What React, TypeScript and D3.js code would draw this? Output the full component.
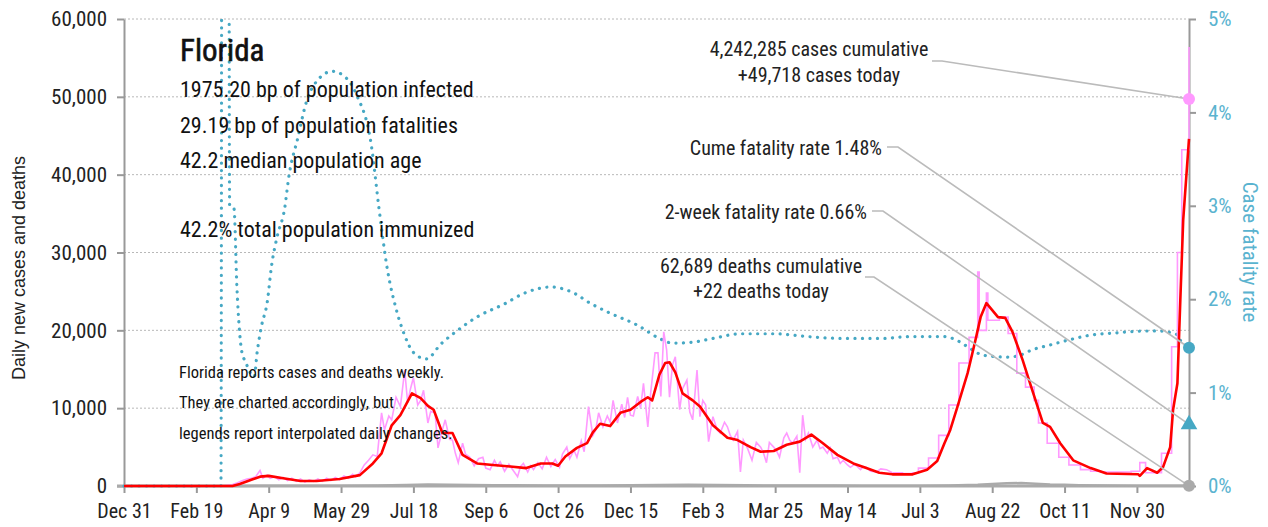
// @ts-nocheck

import React from 'react'
import * as d3 from 'd3'

const FONT =
  "'Liberation Sans Narrow', 'Roboto Condensed', 'DejaVu Sans Condensed', 'Arial Narrow', sans-serif"
const TEAL = '#46a8c4'
const TEAL_TEXT = '#5ab3cf'
const PINK = '#ff99ff'
const RED = '#ff0000'
const GREY = '#aaaaaa'

// days counted from Dec 31 2019
const lastDay = 736
const xTickDays = [0, 50, 100, 150, 200, 250, 300, 350, 400, 450, 500, 550, 600, 650, 700]
const yLeftTicks = [0, 10000, 20000, 30000, 40000, 50000, 60000]
const yRightTicks = [0, 1, 2, 3, 4, 5]

// daily new cases while reported daily
const dailyCases = [
  [0, 0], [60, 0], [66, 10], [70, 50], [75, 200], [78, 400], [82, 700], [85, 900], [88, 1000],
  [91, 1200], [94, 2000], [96, 1000], [99, 1400], [101, 1000], [104, 1200], [107, 800], [110, 1100],
  [113, 700], [116, 1000], [119, 600], [122, 900], [125, 500], [128, 800], [131, 600], [134, 900],
  [137, 600], [140, 1000], [143, 700], [146, 1100], [149, 800], [152, 1300], [155, 1000], [158, 1500],
  [160, 1200], [163, 1700], [166, 2700], [169, 3300], [172, 4000], [175, 3800], [178, 9400], [180, 7200],
  [183, 9000], [185, 8500], [188, 11400], [191, 10200], [194, 14900], [196, 10700], [198, 12500],
  [200, 13900], [203, 10400], [205, 11000], [207, 12300], [210, 8100], [212, 9600], [215, 9400],
  [217, 4900], [220, 7200], [222, 8500], [225, 6000], [227, 5900], [229, 4200], [231, 3000], [234, 5500],
  [236, 4100], [239, 3700], [242, 2600], [245, 3500], [248, 3700], [250, 2300], [253, 2100], [256, 3300],
  [258, 2600], [260, 3100], [263, 1900], [266, 2800], [269, 2000], [272, 1200], [274, 2500], [276, 2900],
  [279, 1800], [281, 2600], [283, 2100], [286, 3000], [289, 2200], [292, 3700], [295, 2500], [298, 3400],
  [301, 2400], [303, 4100], [306, 5000], [308, 3500], [311, 4600], [313, 3700], [316, 5800], [318, 4400],
  [321, 10200], [324, 6500], [326, 7200], [328, 9400], [331, 7600], [334, 9000], [336, 8200], [338, 11000],
  [341, 8100], [344, 10500], [346, 8800], [348, 11400], [350, 9100], [352, 9000], [355, 11500],
  [357, 10000], [359, 13200], [362, 7600], [364, 12000], [367, 17100], [369, 17100], [371, 11500],
  [373, 19800], [375, 17500], [377, 11400], [379, 15500], [381, 16600], [384, 9800], [386, 12500],
  [389, 13600], [391, 9500], [393, 8500], [396, 14900], [398, 8900], [400, 11000], [402, 10400],
  [404, 5700], [407, 8900], [410, 7200], [412, 6800], [415, 8200], [417, 7600], [419, 6500], [421, 5900],
  [424, 7000], [426, 1800], [428, 5900], [431, 4800], [434, 3300], [437, 5600], [440, 5000], [442, 4200],
  [444, 3000], [446, 5600], [449, 5000], [451, 4500], [453, 3700], [456, 6200], [458, 6800], [460, 5900],
  [462, 5500], [465, 6400], [467, 1700], [469, 9100], [471, 6000], [473, 6800], [476, 5000], [479, 5900],
  [481, 4800], [483, 5000], [486, 4200], [488, 4900], [490, 3500], [493, 3700], [495, 2900], [497, 3300],
  [500, 2700], [502, 2400], [505, 2800], [509, 2100], [511, 2500], [513, 2400], [516, 1900], [520, 1800],
  [523, 2200], [527, 2100], [531, 1700],
]

// weekly reported cases (step values)
const weeklyCases = [
  [531, 1700], [538, 1600], [545, 1700], [549, 2300], [556, 3600], [563, 6500], [570, 10400],
  [577, 15800], [584, 19100], [590, 27500], [591, 20000], [596, 24800], [597, 21300], [605, 21700],
  [611, 19600], [617, 14500], [623, 12700], [629, 11000], [632, 8100], [638, 5500], [646, 3700],
  [653, 2700], [661, 2100], [668, 1900], [675, 1800], [682, 1800], [689, 1800], [696, 1900],
  [702, 3000], [706, 1700], [717, 4200], [724, 17900], [728, 30000], [731, 43200], [736, 56400],
  [736, 49718],
]

// 7-day average of cases
const avgCases = [
  [0, 0], [75, 0], [80, 250], [88, 800], [94, 1200], [100, 1300], [110, 1000], [122, 650], [133, 650],
  [149, 900], [163, 1400], [172, 2900], [178, 4200], [185, 7800], [191, 9100], [199, 11900], [205, 11300],
  [210, 10300], [214, 9800], [220, 6800], [227, 6800], [234, 4000], [244, 2900], [255, 2700], [267, 2500],
  [278, 2300], [288, 2900], [296, 2900], [300, 2600], [305, 3800], [313, 4900], [320, 5500], [324, 6900],
  [329, 8000], [336, 7700], [343, 9400], [350, 9800], [357, 10800], [362, 11400], [365, 11000],
  [370, 14300], [374, 15800], [377, 15900], [381, 14600], [386, 11900], [393, 11000], [398, 10200],
  [407, 7800], [417, 6200], [424, 5900], [433, 5000], [440, 4400], [449, 4500], [458, 5300], [467, 5700],
  [475, 6600], [483, 5500], [493, 4000], [504, 2900], [513, 2300], [522, 1700], [531, 1500], [545, 1500],
  [555, 2100], [562, 3200], [567, 5500], [571, 7200], [576, 10200], [583, 14500], [588, 18400],
  [592, 21700], [596, 23500], [600, 22600], [604, 21700], [609, 21600], [614, 19800], [621, 16200],
  [627, 12700], [635, 8100], [640, 7600], [647, 5500], [656, 3300], [668, 2300], [679, 1600], [701, 1500],
  [702, 1300], [707, 2300], [714, 1700], [718, 2400], [723, 5000], [725, 9800], [728, 13200],
  [730, 23900], [732, 34200], [736, 44600],
]

// daily deaths
const dailyDeaths = [
  [0, 0], [65, 0], [80, 10], [95, 40], [110, 45], [130, 40], [150, 35], [175, 50], [195, 120],
  [210, 180], [225, 170], [240, 130], [255, 100], [270, 90], [290, 60], [310, 60], [330, 80],
  [350, 100], [370, 120], [390, 160], [410, 130], [430, 90], [450, 70], [470, 60], [490, 50],
  [510, 40], [530, 30], [550, 40], [570, 60], [590, 150], [600, 250], [610, 350], [620, 380],
  [630, 300], [640, 200], [650, 150], [660, 100], [680, 50], [700, 30], [720, 20], [736, 22],
]

// cumulative case fatality rate, percent
const cfrPct = [
  [0, 0], [67, 0], [68, 12], [72, 12], [73, 3.0], [76, 2.97], [78, 2.14], [81.5, 1.43], [84, 1.33],
  [87, 1.22], [90, 1.17], [92, 1.43], [95, 1.71], [99, 1.97], [102, 2.36], [106, 2.68], [111, 2.97],
  [114, 3.32], [120, 3.72], [126, 4.11], [133, 4.33], [144, 4.44], [152, 4.39], [161, 4.18], [171, 3.64],
  [176, 3.0], [182, 2.32], [188, 1.9], [194, 1.61], [200, 1.43], [209, 1.36], [219, 1.52], [230, 1.66],
  [244, 1.81], [263, 1.95], [276, 2.06], [295, 2.13], [309, 2.08], [323, 1.95], [336, 1.85], [355, 1.72],
  [370, 1.58], [379, 1.53], [393, 1.54], [407, 1.58], [426, 1.63], [449, 1.63], [472, 1.6], [497, 1.58],
  [525, 1.58], [543, 1.6], [566, 1.6], [578, 1.54], [583, 1.49], [594, 1.4], [610, 1.38], [617, 1.39],
  [628, 1.46], [640, 1.51], [652, 1.56], [666, 1.61], [686, 1.64], [709, 1.66], [714, 1.66], [728, 1.62],
  [730, 1.56], [736, 1.48],
]

const latestCases = 49718
const latestDeaths = 22
const cumeCfr = 1.48
const twoWeekCfr = 0.66

const infoLines = [
  '1975.20 bp of population infected',
  '29.19 bp of population fatalities',
  '42.2 median population age',
  '',
  '42.2% total population immunized',
]
const noteLines = [
  'Florida reports cases and deaths weekly.',
  'They are charted accordingly, but',
  'legends report interpolated daily changes.',
]

const App = () => {
  const svgRef = React.useRef(null)
  const width = 1268
  const height = 527
  const plot = { left: 124, right: 1189, top: 19, bottom: 486 }

  React.useEffect(() => {
    const t0 = Date.UTC(2019, 11, 31)
    const day = (d) => new Date(t0 + d * 864e5)
    const x = d3.scaleUtc().domain([day(0), day(lastDay)]).range([plot.left, plot.right])
    const yL = d3.scaleLinear().domain([0, 60000]).range([plot.bottom, plot.top])
    const yR = d3.scaleLinear().domain([0, 5]).range([plot.bottom, plot.top])

    const svg = d3.select(svgRef.current)
    svg.selectAll('*').remove()
    svg.style('font-family', FONT)

    svg
      .append('defs')
      .append('clipPath')
      .attr('id', 'plotclip')
      .append('rect')
      .attr('x', plot.left - 5)
      .attr('y', plot.top)
      .attr('width', plot.right - plot.left + 10)
      .attr('height', plot.bottom - plot.top + 4)

    // grid
    svg
      .append('g')
      .selectAll('line')
      .data(yLeftTicks.filter((v) => v > 0))
      .join('line')
      .attr('x1', plot.left)
      .attr('x2', plot.right)
      .attr('y1', (d) => yL(d))
      .attr('y2', (d) => yL(d))
      .attr('stroke', '#b8b8b8')
      .attr('stroke-width', 1)
      .attr('stroke-dasharray', '2,2')

    // left axis
    const left = svg
      .append('g')
      .attr('transform', `translate(${plot.left},0)`)
      .call(
        d3.axisLeft(yL).tickValues(yLeftTicks).tickSize(7).tickSizeOuter(0).tickPadding(10)
          .tickFormat(d3.format(','))
      )
    left.select('.domain').attr('stroke', '#999').attr('stroke-width', 2)
    left.selectAll('line').attr('stroke', '#999').attr('stroke-width', 2)
    left.selectAll('text').attr('font-size', 21).attr('fill', '#222').attr('font-family', FONT)

    // right axis
    const right = svg
      .append('g')
      .attr('transform', `translate(${plot.right},0)`)
      .call(
        d3.axisRight(yR).tickValues(yRightTicks).tickSize(7).tickSizeOuter(0).tickPadding(12)
          .tickFormat((v) => `${v}%`)
      )
    right.select('.domain').attr('stroke', '#999').attr('stroke-width', 2)
    right.selectAll('line').attr('stroke', '#999').attr('stroke-width', 2)
    right.selectAll('text').attr('font-size', 21).attr('fill', TEAL_TEXT).attr('font-family', FONT)

    // bottom axis
    const bottom = svg
      .append('g')
      .attr('transform', `translate(0,${plot.bottom})`)
      .call(
        d3.axisBottom(x).tickValues(xTickDays.map(day)).tickSize(7).tickSizeOuter(0).tickPadding(11)
          .tickFormat(d3.utcFormat('%b %-d'))
      )
    bottom.select('.domain').remove()
    bottom.selectAll('line').attr('stroke', '#999').attr('stroke-width', 2)
    bottom.selectAll('text').attr('font-size', 20).attr('fill', '#222').attr('font-family', FONT)
    svg
      .append('line')
      .attr('x1', plot.left - 7)
      .attr('x2', plot.right)
      .attr('y1', plot.bottom)
      .attr('y2', plot.bottom)
      .attr('stroke', '#aaa')
      .attr('stroke-width', 3)

    // axis titles
    svg
      .append('text')
      .attr('transform', 'translate(19,268) rotate(-90)')
      .attr('text-anchor', 'middle')
      .attr('dy', '0.35em')
      .attr('font-size', 18)
      .attr('font-family', "'Liberation Sans', Arial, sans-serif")
      .attr('fill', '#222')
      .text('Daily new cases and deaths')
    svg
      .append('text')
      .attr('transform', 'translate(1250,252) rotate(90)')
      .attr('text-anchor', 'middle')
      .attr('dy', '0.35em')
      .attr('font-size', 21)
      .attr('fill', TEAL_TEXT)
      .text('Case fatality rate')

    const chart = svg.append('g').attr('clip-path', 'url(#plotclip)')

    // fatality rate, dotted
    chart
      .append('path')
      .attr(
        'd',
        d3.line().x((d) => x(day(d[0]))).y((d) => yR(d[1])).curve(d3.curveMonotoneX)(cfrPct)
      )
      .attr('fill', 'none')
      .attr('stroke', TEAL)
      .attr('stroke-width', 3.2)
      .attr('stroke-linecap', 'round')
      .attr('stroke-dasharray', '0.1,7.4')

    const lineL = d3.line().x((d) => x(day(d[0]))).y((d) => yL(d[1]))

    chart
      .append('path')
      .attr('d', lineL(dailyCases))
      .attr('fill', 'none')
      .attr('stroke', PINK)
      .attr('stroke-width', 1.6)
    chart
      .append('path')
      .attr('d', lineL.curve(d3.curveStepAfter)(weeklyCases))
      .attr('fill', 'none')
      .attr('stroke', PINK)
      .attr('stroke-width', 1.6)
    lineL.curve(d3.curveLinear)

    chart
      .append('path')
      .attr('d', lineL(dailyDeaths))
      .attr('fill', 'none')
      .attr('stroke', GREY)
      .attr('stroke-width', 2.5)

    chart
      .append('path')
      .attr('d', lineL(avgCases))
      .attr('fill', 'none')
      .attr('stroke', RED)
      .attr('stroke-width', 2.6)
      .attr('stroke-linejoin', 'round')

    // leader lines
    const xe = x(day(lastDay))
    const leaders = [
      [932, 61, 942, yL(latestCases)],
      [887, 147, 898, yR(cumeCfr)],
      [872, 211, 883, yR(twoWeekCfr)],
      [865, 277, 874, yL(latestDeaths)],
    ]
    svg
      .append('g')
      .selectAll('path')
      .data(leaders)
      .join('path')
      .attr('d', (d) => `M${d[0]},${d[1]}H${d[2]}L${xe},${d[3]}`)
      .attr('fill', 'none')
      .attr('stroke', '#bbb')
      .attr('stroke-width', 1.6)

    // end markers
    svg.append('circle').attr('cx', xe).attr('cy', yL(latestCases)).attr('r', 6).attr('fill', PINK)
    svg.append('circle').attr('cx', xe).attr('cy', yR(cumeCfr)).attr('r', 6).attr('fill', TEAL)
    svg
      .append('path')
      .attr('d', d3.symbol(d3.symbolTriangle, 120)())
      .attr('transform', `translate(${xe},${yR(twoWeekCfr)})`)
      .attr('fill', TEAL)
    svg.append('circle').attr('cx', xe).attr('cy', yL(latestDeaths)).attr('r', 6).attr('fill', GREY)

    // annotations
    const fmt = d3.format(',')
    const ann = svg.append('g').attr('font-size', 20).attr('fill', '#222')
    ann.append('text').attr('x', 819).attr('y', 56).attr('text-anchor', 'middle')
      .text(`${fmt(4242285)} cases cumulative`)
    ann.append('text').attr('x', 819).attr('y', 82).attr('text-anchor', 'middle')
      .text(`+${fmt(latestCases)} cases today`)
    ann.append('text').attr('x', 882).attr('y', 155).attr('text-anchor', 'end')
      .text(`Cume fatality rate ${cumeCfr.toFixed(2)}%`)
    ann.append('text').attr('x', 867).attr('y', 219).attr('text-anchor', 'end')
      .text(`2-week fatality rate ${twoWeekCfr.toFixed(2)}%`)
    ann.append('text').attr('x', 761).attr('y', 273).attr('text-anchor', 'middle')
      .text(`${fmt(62689)} deaths cumulative`)
    ann.append('text').attr('x', 761).attr('y', 298).attr('text-anchor', 'middle')
      .text(`+${latestDeaths} deaths today`)

    // info block
    const info = svg.append('g').attr('fill', '#111')
    info.append('text').attr('x', 180).attr('y', 61).attr('font-size', 31)
      .attr('stroke', '#111').attr('stroke-width', 0.6).text('Florida')
    const infoY = [97, 133, 168, 203, 237]
    info
      .selectAll('text.info')
      .data(infoLines)
      .join('text')
      .attr('class', 'info')
      .attr('x', 180)
      .attr('y', (d, i) => infoY[i])
      .attr('font-size', 22)
      .text((d) => d)

    const noteY = [378, 408, 439]
    info
      .selectAll('text.note')
      .data(noteLines)
      .join('text')
      .attr('class', 'note')
      .attr('x', 179)
      .attr('y', (d, i) => noteY[i])
      .attr('font-size', 16.5)
      .text((d) => d)
  }, [])

  return (
    <svg
      ref={svgRef}
      width={width}
      height={height}
      style={{ position: 'absolute', left: 0, top: 0, background: '#fff' }}
    />
  )
}

export default App
